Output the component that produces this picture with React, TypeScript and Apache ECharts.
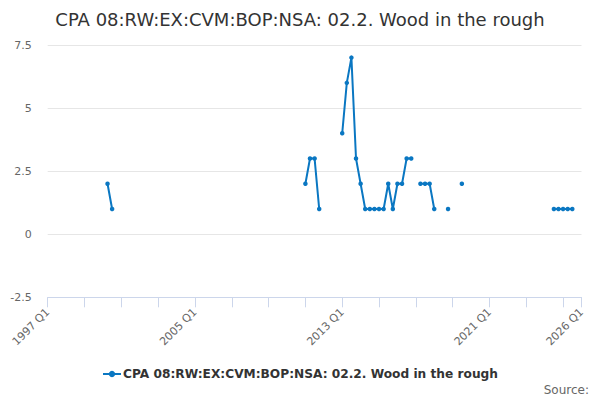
import React, { useEffect, useRef } from "react";
import * as echarts from "echarts";

const TITLE = "CPA 08:RW:EX:CVM:BOP:NSA: 02.2. Wood in the rough";
const SERIES_NAME = "CPA 08:RW:EX:CVM:BOP:NSA: 02.2. Wood in the rough";

const FIRST_YEAR = 1997;
const LAST_YEAR = 2026; // axis ends at 2026 Q1
const QUARTERS = ["Q1", "Q2", "Q3", "Q4"];

const categories: string[] = [];
for (let y = FIRST_YEAR; y <= LAST_YEAR; y++) {
  for (const q of QUARTERS) {
    if (y === LAST_YEAR && q !== "Q1") break;
    categories.push(`${y} ${q}`);
  }
}

// observed values (quarter, value); other quarters have no data
const observedQuarters = [
  "2000 Q2", "2000 Q3",
  "2011 Q1", "2011 Q2", "2011 Q3", "2011 Q4",
  "2013 Q1", "2013 Q2", "2013 Q3", "2013 Q4",
  "2014 Q1", "2014 Q2", "2014 Q3", "2014 Q4",
  "2015 Q1", "2015 Q2", "2015 Q3", "2015 Q4",
  "2016 Q1", "2016 Q2", "2016 Q3", "2016 Q4",
  "2017 Q2", "2017 Q3", "2017 Q4",
  "2018 Q1", "2018 Q4",
  "2019 Q3",
  "2024 Q3", "2024 Q4", "2025 Q1", "2025 Q2", "2025 Q3",
];
const observedValues = [
  2, 1,
  2, 3, 3, 1,
  4, 6, 7, 3,
  2, 1, 1, 1,
  1, 1, 2, 1,
  2, 2, 3, 3,
  2, 2, 2,
  1, 1,
  2,
  1, 1, 1, 1, 1,
];

const yTicks = [-2.5, 0, 2.5, 5, 7.5];

const values: (number | null)[] = categories.map((c) => {
  const i = observedQuarters.indexOf(c);
  return i >= 0 ? observedValues[i] : null;
});

const FONT = "DejaVu Sans";
const LINE_COLOR = "#0a77c2";

export default function App() {
  const ref = useRef<HTMLDivElement>(null);
  useEffect(() => {
    if (!ref.current) return;
    const chart = echarts.init(ref.current, null, { renderer: "svg" });
    const last = categories.length - 1;
    chart.setOption({
      animation: false,
      backgroundColor: "#ffffff",
      textStyle: { fontFamily: FONT },
      title: {
        text: TITLE,
        left: "center",
        top: 5,
        textStyle: { fontFamily: FONT, fontSize: 18, fontWeight: "normal", color: "#333333" },
      },
      grid: { left: 47.7, right: 18.5, top: 45, bottom: 102.7, containLabel: false },
      legend: {
        bottom: 15,
        left: "center",
        itemWidth: 18,
        itemHeight: 8,
        itemGap: 10,
        textStyle: { fontFamily: FONT, fontSize: 12.2, fontWeight: "bold", color: "#333333", padding: [0, 0, 0, -3] },
        data: [SERIES_NAME],
      },
      xAxis: {
        type: "category",
        data: categories,
        boundaryGap: false,
        axisLine: { onZero: false, lineStyle: { color: "#ccd6eb", width: 1 } },
        axisTick: {
          length: 10,
          lineStyle: { color: "#ccd6eb" },
          interval: (i: number) => i % 8 === 0 || i === last,
        },
        axisLabel: {
          rotate: 45,
          margin: 13,
          color: "#666666",
          fontSize: 11,
          fontFamily: FONT,
          interval: (i: number) => i % 32 === 0 || i === last,
          showMaxLabel: true,
        },
        splitLine: { show: false },
      },
      yAxis: {
        type: "value",
        min: yTicks[0],
        max: yTicks[yTicks.length - 1],
        interval: 2.5,
        axisLine: { show: false },
        axisTick: { show: false },
        axisLabel: { color: "#666666", fontSize: 11, fontFamily: FONT, margin: 16 },
        splitLine: { lineStyle: { color: "#e6e6e6", width: 1 } },
      },
      series: [
        {
          name: SERIES_NAME,
          type: "line",
          data: values,
          connectNulls: false,
          showSymbol: true,
          showAllSymbol: true,
          symbol: "circle",
          symbolSize: 4.5,
          itemStyle: { color: LINE_COLOR },
          lineStyle: { color: LINE_COLOR, width: 2 },
        },
      ],
      graphic: [
        {
          type: "text",
          x: 589,
          y: 390,
          z: 100,
          style: {
            text: "Source:",
            font: `12px "${FONT}"`,
            fill: "#666666",
            align: "right",
            verticalAlign: "middle",
          },
        },
      ],
    });
    return () => chart.dispose();
  }, []);
  return (
    <div
      ref={ref}
      style={{ position: "absolute", left: 0, top: 0, width: 600, height: 400 }}
    />
  );
}
